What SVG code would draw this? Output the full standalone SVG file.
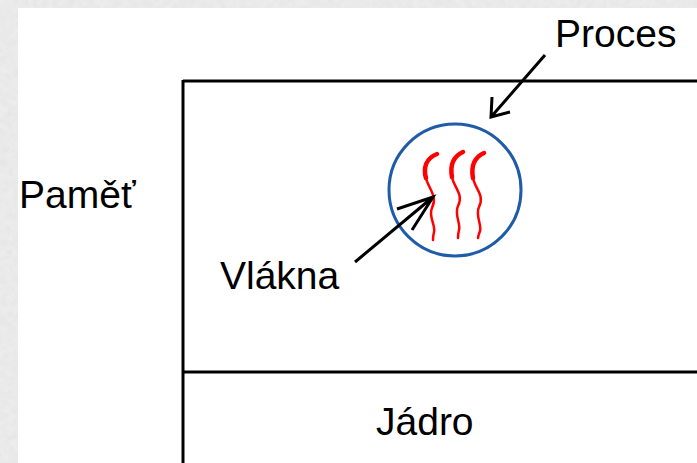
<svg xmlns="http://www.w3.org/2000/svg" width="697" height="463" viewBox="0 0 697 463">
<defs>
<filter id="stone" x="0" y="0" width="100%" height="100%">
<feTurbulence type="fractalNoise" baseFrequency="0.15" numOctaves="3" seed="4" result="n"/>
<feColorMatrix type="matrix" values="0 0 0 0 0.84  0 0 0 0 0.84  0 0 0 0 0.84  1 1 1 0 -0.95" result="c"/>
<feComposite in="c" in2="SourceGraphic" operator="over"/>
</filter>
</defs>
<style>
.t{font-family:"Liberation Sans",Arial,sans-serif;font-size:39px;fill:#000}
.ln{stroke:#000;stroke-width:3;fill:none}
.arr{stroke:#000;stroke-width:3;fill:none}
.th{stroke:#ff0000;fill:none;stroke-linecap:round}
</style>
<rect x="0" y="0" width="697" height="463" fill="#d9d9d9"/>
<rect x="0" y="0" width="697" height="463" fill="#e6e6e6" filter="url(#stone)"/>
<rect x="18" y="8" width="679" height="455" fill="#fff"/>

<g id="pamet">
<line class="ln" x1="183" y1="81" x2="697" y2="81"/>
<line class="ln" x1="183" y1="80" x2="183" y2="463"/>
<text class="t" x="19" y="208">Paměť</text>
</g>
<g id="jadro">
<line class="ln" x1="183" y1="372" x2="697" y2="372"/>
<text class="t" x="376" y="435">Jádro</text>
</g>
<g id="proces">
<circle cx="455" cy="190" r="66" fill="none" stroke="#1f5ba8" stroke-width="3"/>
<text class="t" x="555" y="47">Proces</text>
</g>
<g id="vlakna">
<path class="th" stroke-width="4.5" d="M437,154 C426,158 423,168 426,178"/>
<path class="th" stroke-width="2.5" d="M426,178 C428,188 438,196 432,208 C428,216 436,226 434,232 C433,236 433,238 433,240"/>
<path class="th" stroke-width="4.5" d="M463,152 C452,157 450,166 452,177"/>
<path class="th" stroke-width="2.5" d="M452,177 C454,188 464,194 458,206 C454,214 461,224 459,230 C458,234 458,236 458,238"/>
<path class="th" stroke-width="4.5" d="M484,153 C473,158 471,167 473,178"/>
<path class="th" stroke-width="2.5" d="M473,178 C475,189 485,195 479,207 C475,215 482,225 480,231 C479,234 478,236 478,238"/>
<text class="t" x="220" y="289">Vlákna</text>
</g>
<g id="connectors">
<path class="arr" d="M545,55 L491,117 M492,97 L491,117 L510,112"/>
<path class="arr" d="M355,262 L433,197 M397,209 L433,197 L412,230"/>
</g>
</svg>
